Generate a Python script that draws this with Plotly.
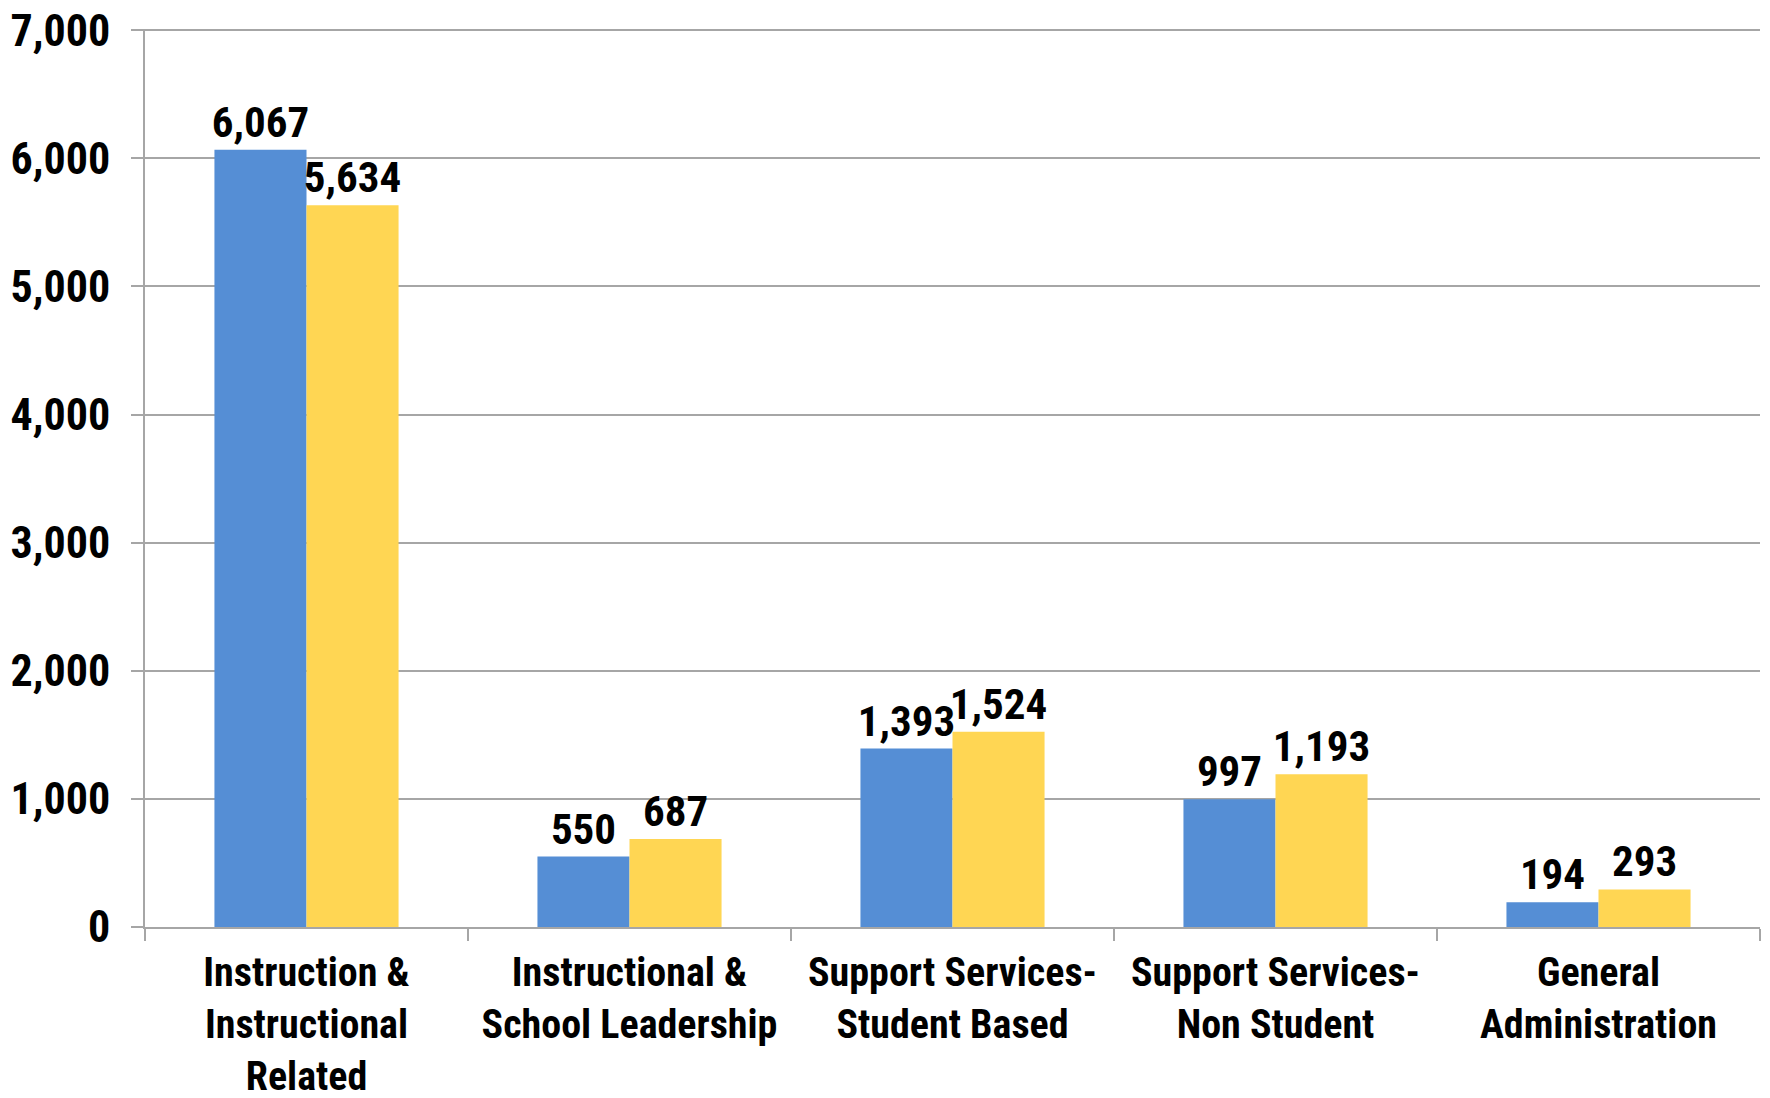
import plotly.graph_objects as go

categories = [
    "Instruction &<br>Instructional<br>Related",
    "Instructional &<br>School Leadership",
    "Support Services-<br>Student Based",
    "Support Services-<br>Non Student",
    "General<br>Administration",
]
series1_values = [6067, 550, 1393, 997, 194]
series2_values = [5634, 687, 1524, 1193, 293]
y_tickvals = [0, 1000, 2000, 3000, 4000, 5000, 6000, 7000]

FONT = "Roboto Condensed, Liberation Sans Narrow, Arial Narrow, sans-serif"
BLUE = "#558ED5"
YELLOW = "#FFD653"
GRID = "#A6A6A6"

fig = go.Figure()
for name, vals, col in [("Series 1", series1_values, BLUE), ("Series 2", series2_values, YELLOW)]:
    fig.add_trace(go.Bar(
        x=categories, y=vals, name=name,
        marker=dict(color=col, line=dict(width=0)),
        texttemplate="%{y:,}", textposition="outside", cliponaxis=False,
        constraintext="none",
        textfont=dict(family=FONT, size=43, color="black", weight="bold"),
    ))

fig.update_layout(
    width=1762, height=1090,
    margin=dict(l=137, r=10, t=21, b=171),
    paper_bgcolor="white", plot_bgcolor="white",
    barmode="group", bargap=0.43, bargroupgap=0,
    showlegend=False,
)
fig.update_yaxes(
    range=[0, 7010], tickvals=y_tickvals, tickformat=",d",
    showgrid=True, gridcolor=GRID, gridwidth=2,
    showline=True, linecolor=GRID, linewidth=2,
    ticks="outside", ticklen=12, tickcolor=GRID, tickwidth=2,
    ticklabelstandoff=12, automargin=False, ticklabeloverflow="allow",
    tickfont=dict(family=FONT, size=44, color="black", weight="bold"),
    zeroline=False,
)
fig.update_xaxes(
    showline=True, linecolor=GRID, linewidth=2,
    ticks="outside", ticklen=12, tickcolor=GRID, tickwidth=2,
    tickson="boundaries", ticklabelstandoff=9, automargin=False,
    ticklabeloverflow="allow",
    tickfont=dict(family=FONT, size=40, color="black", weight="bold"),
    tickangle=0,
)

fig.write_html("out.html")
